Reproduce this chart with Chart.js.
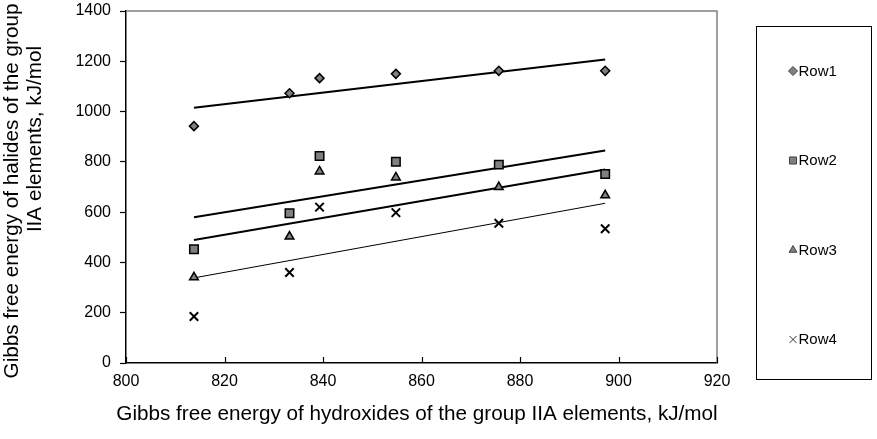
<!DOCTYPE html>
<html><head><meta charset="utf-8">
<script src="https://cdn.jsdelivr.net/npm/chart.js@4/dist/chart.umd.min.js"></script>
<style>html,body{margin:0;padding:0;background:#fff}#wrap{width:877px;height:439px;position:relative}</style>
</head><body><div id="wrap"><canvas id="c" width="877" height="439"></canvas></div>
<script>
// ---- data ----
const xValues = [813.8, 833.2, 839.3, 854.8, 875.7, 897.3];
const row1 = [942, 1073, 1133, 1150, 1162, 1162];
const row2 = [452, 596, 823, 800, 789, 752];
const row3 = [341, 503, 762, 738, 700, 667];
const row4 = [185, 360, 620, 598, 556, 534];
const seriesNames = ['Row1', 'Row2', 'Row3', 'Row4'];
const xTickRange = [800, 920, 20];
const yTickRange = [0, 1400, 200];
const xTitle = 'Gibbs free energy of hydroxides of the group IIA elements, kJ/mol';
const yTitle = ['Gibbs free energy of halides of the group', 'IIA elements, kJ/mol'];

const FONT = 'Liberation Sans, Arial, sans-serif';
const seriesValues = [row1, row2, row3, row4];
const styles = [
  {pointStyle: 'rectRot', radius: 4.5, bw: 1.5},
  {pointStyle: 'rect', radius: 6, bw: 1.5},
  {pointStyle: 'triangle', radius: 5, bw: 1.5},
  {pointStyle: 'crossRot', radius: 6, bw: 2}
];
const trendWidths = [2, 2, 2, 1];

function linFit(xs, ys) {
  const n = xs.length;
  const mx = xs.reduce((a, b) => a + b, 0) / n;
  const my = ys.reduce((a, b) => a + b, 0) / n;
  let sxy = 0, sxx = 0;
  for (let i = 0; i < n; i++) { sxy += (xs[i] - mx) * (ys[i] - my); sxx += (xs[i] - mx) ** 2; }
  const b = sxy / sxx;
  return x => my + b * (x - mx);
}

const datasets = [];
seriesValues.forEach((vals, i) => {
  const st = styles[i];
  datasets.push({
    label: seriesNames[i],
    data: xValues.map((x, k) => ({x, y: vals[k]})),
    pointStyle: st.pointStyle,
    pointRadius: st.radius,
    pointBackgroundColor: '#808080',
    pointBorderColor: '#000',
    pointBorderWidth: st.bw,
    showLine: false
  });
});
seriesValues.forEach((vals, i) => {
  const f = linFit(xValues, vals);
  const x0 = Math.min(...xValues), x1 = Math.max(...xValues);
  datasets.push({
    label: seriesNames[i] + ' trend',
    data: [{x: x0, y: f(x0)}, {x: x1, y: f(x1)}],
    showLine: true,
    pointRadius: 0,
    borderColor: '#000',
    borderWidth: trendWidths[i],
    fill: false
  });
});

const framePlugin = {
  id: 'frame',
  afterDraw(chart) {
    const {ctx, chartArea: a, scales} = chart;
    ctx.save();
    // gray top and right frame
    ctx.strokeStyle = '#808080';
    ctx.lineWidth = 1.5;
    ctx.beginPath();
    ctx.moveTo(a.left, a.top); ctx.lineTo(a.right, a.top); ctx.lineTo(a.right, a.bottom);
    ctx.stroke();
    // inner x ticks
    ctx.strokeStyle = '#000';
    ctx.lineWidth = 1.2;
    ctx.beginPath();
    for (const t of scales.x.ticks) {
      const px = Math.round(scales.x.getPixelForValue(t.value)) + 0.5;
      ctx.moveTo(px, a.bottom); ctx.lineTo(px, a.bottom - 6);
    }
    ctx.stroke();
    // axis titles
    ctx.fillStyle = '#000';
    ctx.textAlign = 'center';
    ctx.textBaseline = 'alphabetic';
    ctx.font = '20.7px ' + FONT;
    ctx.fillText(xTitle, 417, 420);
    ctx.textBaseline = 'middle';
    ctx.save();
    ctx.translate(12, 191); ctx.rotate(-Math.PI / 2); ctx.fillText(yTitle[0], 0, 0);
    ctx.restore();
    ctx.save();
    ctx.translate(35, 139); ctx.rotate(-Math.PI / 2); ctx.fillText(yTitle[1], 0, 0);
    ctx.restore();
    // legend
    const bx = 756.5, by = 26.5, bw = 115, bh = 353;
    ctx.strokeStyle = '#000';
    ctx.lineWidth = 1;
    ctx.strokeRect(bx, by, bw, bh);
    ctx.font = '15px ' + FONT;
    ctx.textBaseline = 'middle';
    ctx.textAlign = 'left';
    seriesNames.forEach((name, i) => {
      const y = by + 44.5 + i * 89.5;
      const st = styles[i];
      const o = {pointStyle: st.pointStyle, radius: (i === 1 || i === 3) ? 5 : 4.5, borderWidth: 1, rotation: 0};
      ctx.fillStyle = '#808080';
      ctx.strokeStyle = i === 3 ? '#333' : '#404040';
      ctx.lineWidth = 1;
      Chart.helpers.drawPoint(ctx, o, 793, y);
      ctx.fillStyle = '#000';
      ctx.fillText(name, 798.5, y + 0.5);
    });
    ctx.restore();
  }
};

new Chart(document.getElementById('c'), {
  type: 'scatter',
  data: {datasets},
  plugins: [framePlugin],
  options: {
    responsive: false,
    animation: false,
    devicePixelRatio: 1,
    layout: {padding: {left: 0, top: 11, right: 160, bottom: 0}},
    plugins: {legend: {display: false}, tooltip: {enabled: false}},
    scales: {
      x: {
        type: 'linear', min: xTickRange[0], max: xTickRange[1],
        ticks: {stepSize: xTickRange[2], color: '#000', font: {family: FONT, size: 16}, padding: 9, maxRotation: 0,
                callback: v => String(v)},
        grid: {drawOnChartArea: false, drawTicks: false},
        border: {color: '#000', width: 1.5},
        title: {display: false},
        afterFit(s) { s.height = 76; s.paddingLeft = 0; s.paddingRight = 0; }
      },
      y: {
        type: 'linear', min: yTickRange[0], max: yTickRange[1],
        ticks: {stepSize: yTickRange[2], color: '#000', font: {family: FONT, size: 16}, padding: 9,
                callback: v => String(v)},
        grid: {drawOnChartArea: false, drawTicks: true, tickLength: 6, tickColor: '#000', tickWidth: 1.2},
        border: {color: '#000', width: 1.5},
        title: {display: false},
        afterFit(s) { s.width = 126; s.paddingTop = 0; s.paddingBottom = 0; }
      }
    }
  }
});
</script></body></html>
